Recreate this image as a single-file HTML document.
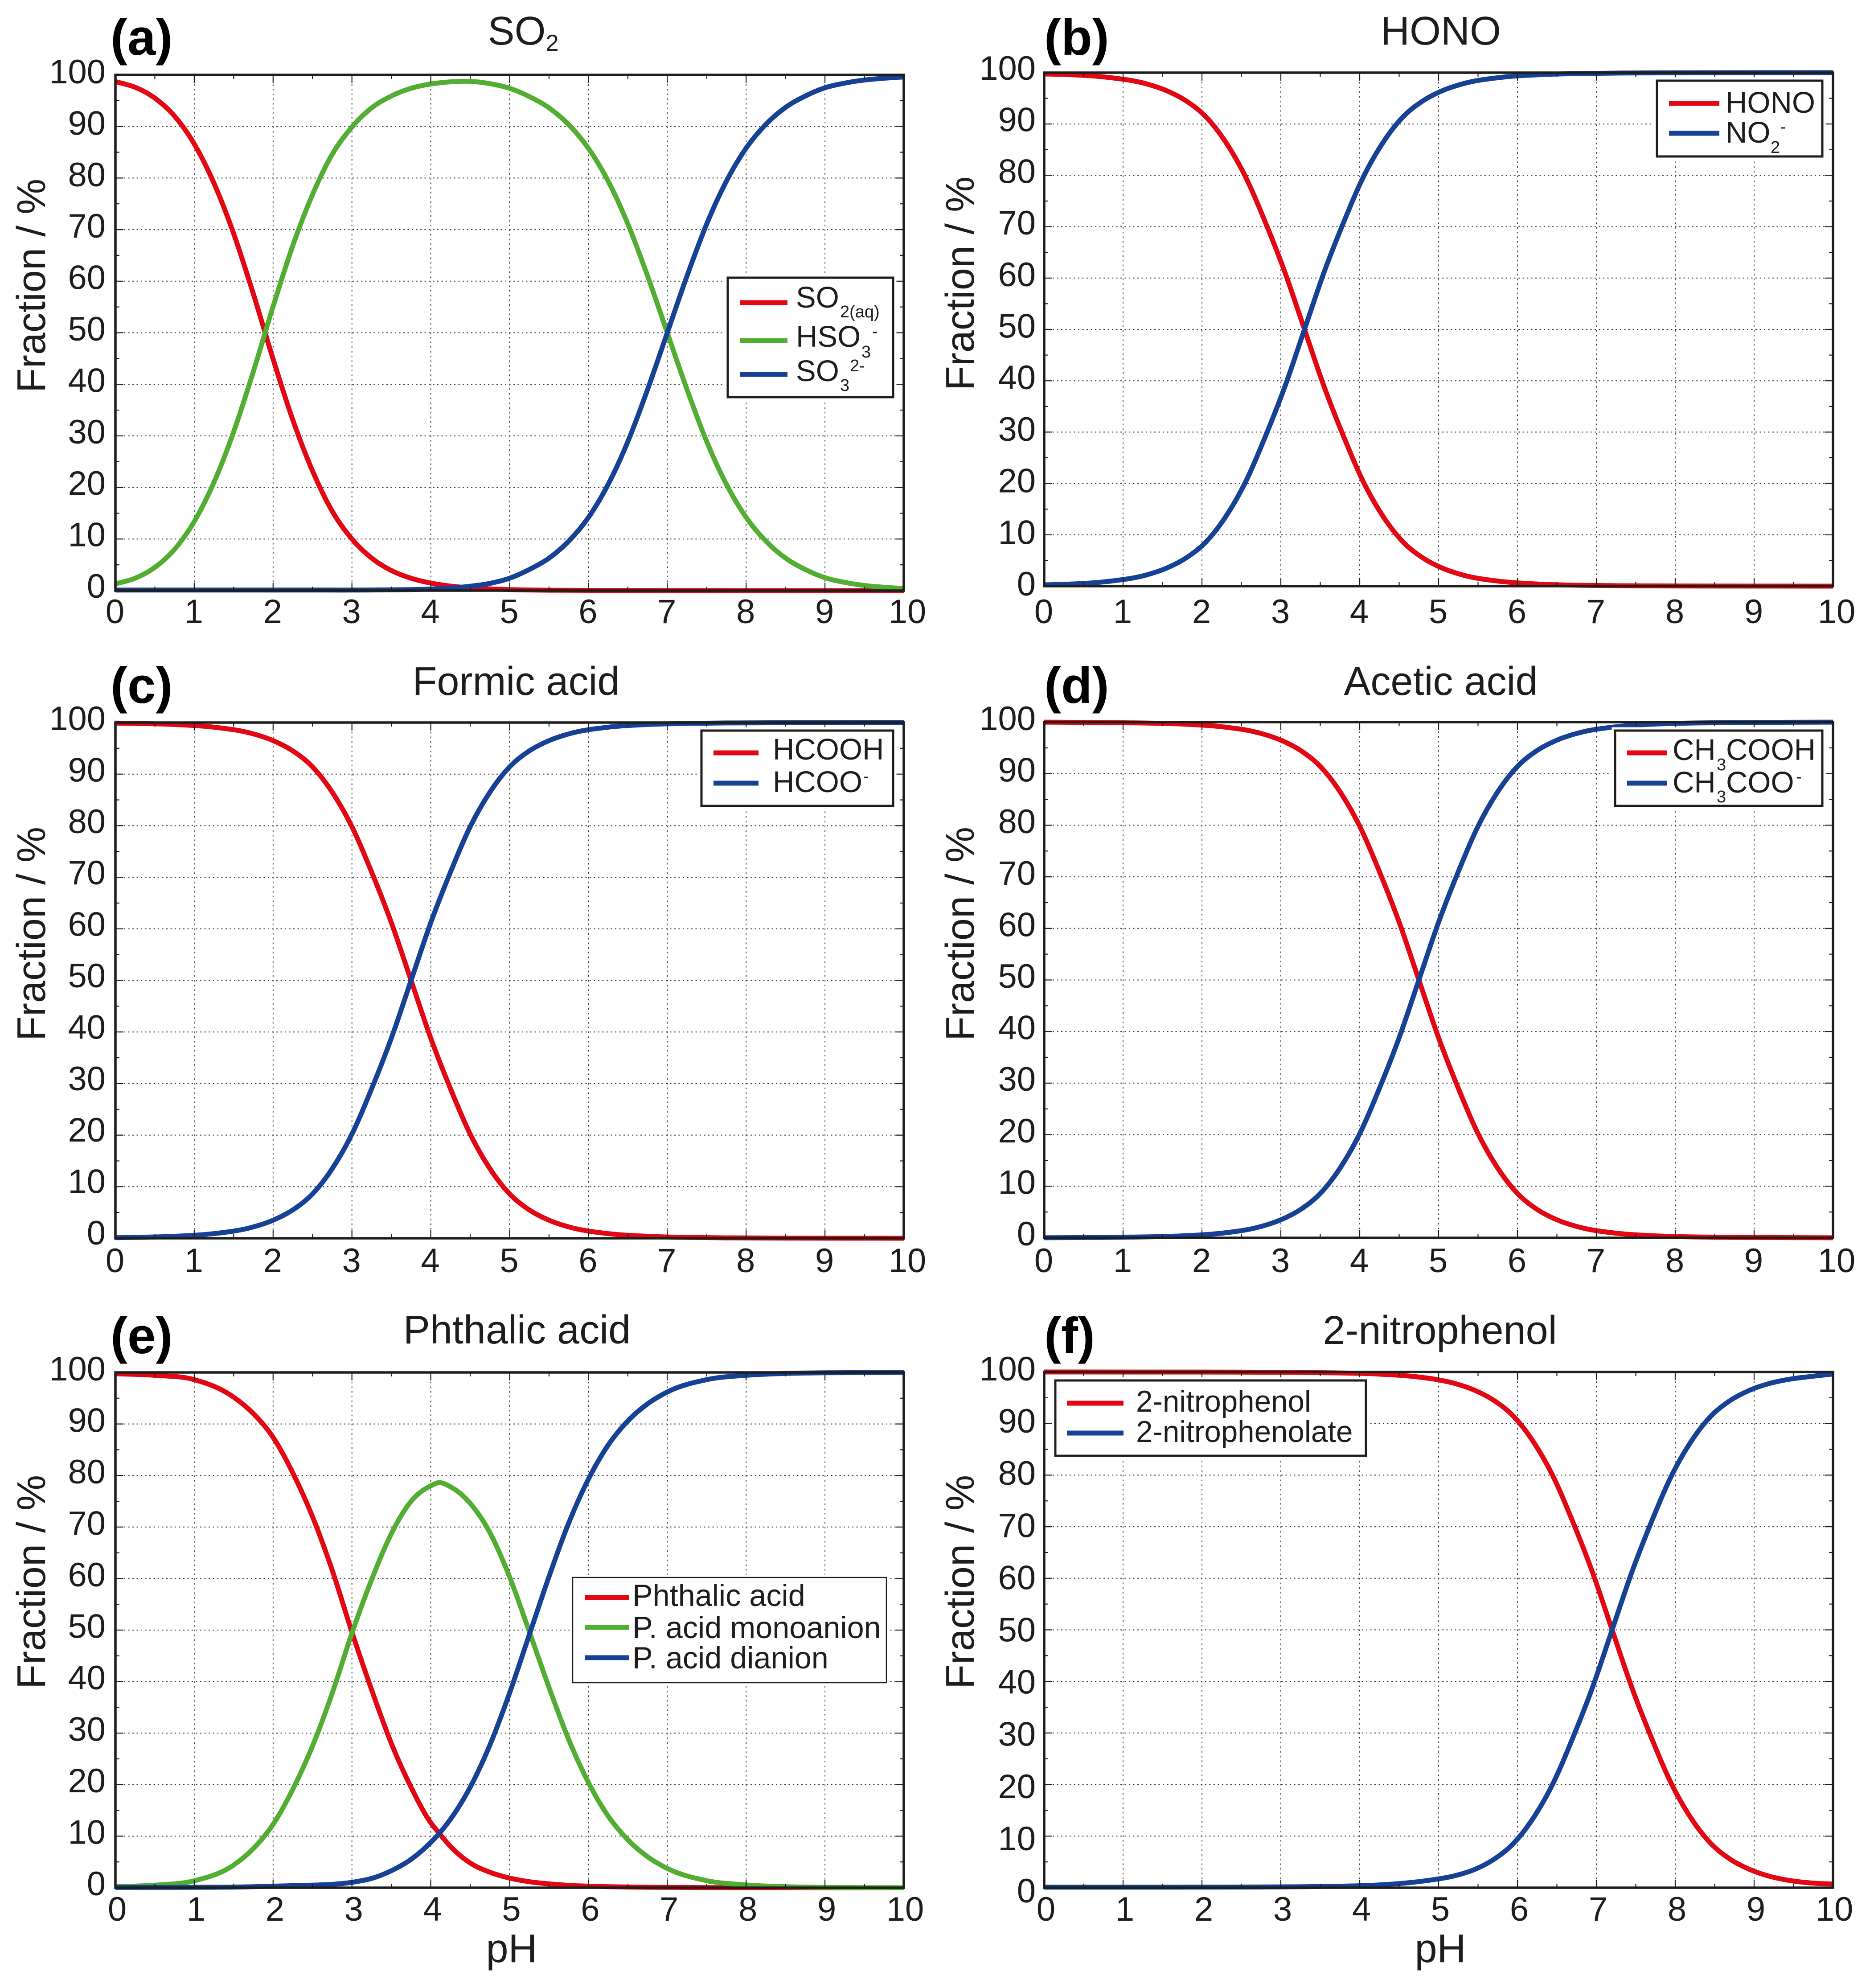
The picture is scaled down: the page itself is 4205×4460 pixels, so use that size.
<!DOCTYPE html>
<html lang="en">
<head>
<meta charset="utf-8">
<title>Speciation fractions versus pH</title>
<style>
html,body{margin:0;padding:0;background:#fff;}
svg{display:block;}
text{font-family:"Liberation Sans",Arial,sans-serif;fill:#1d1d1b;}
</style>
</head>
<body>
<svg id="figure" xmlns="http://www.w3.org/2000/svg" width="4205" height="4460" viewBox="0 0 4205 4460"></svg>
<script>
// ---------- tick labels ----------
const xTickValues = [0,1,2,3,4,5,6,7,8,9,10];
const xMinorValues = [0.5,1.5,2.5,3.5,4.5,5.5,6.5,7.5,8.5,9.5];
const yTickValues = [0,10,20,30,40,50,60,70,80,90,100];
const yMinorValues = [5,15,25,35,45,55,65,75,85,95];

// ---------- panel (a) SO2 ----------
const phA = [0,0.25,0.5,0.75,1,1.25,1.5,1.75,2,2.25,2.5,2.75,3,3.25,3.5,3.75,4,4.25,4.5,4.75,5,5.25,5.5,5.75,6,6.25,6.5,6.75,7,7.25,7.5,7.75,8,8.25,8.5,8.75,9,9.25,9.5,9.75,10];
const so2Aq = [98.7,97.6,95.5,92,86.6,79,69.2,57.5,44.9,33.1,23.2,15.4,10,6.3,3.9,2.4,1.46,0.88,0.53,0.32,0.2,0.12,0.08,0.06,0.04,0.03,0.02,0.02,0.01,0.01,0.01,0.01,0,0,0,0,0,0,0,0,0];
const hso3 = [1.3,2.4,4.5,8,13.4,21,30.8,42.5,55.1,66.9,76.8,84.6,89.9,93.6,95.9,97.4,98.24,98.65,98.75,98.3,97.4,95.8,93.6,90.35,85.75,79.4,71.1,61,50,39,28.9,20.6,14.2,9.6,6.3,4.1,2.5,1.6,1,0.65,0.4];
const so3 = [0.1,0.1,0.1,0.1,0.1,0.1,0.1,0.1,0.1,0.1,0.1,0.1,0.1,0.12,0.15,0.2,0.3,0.48,0.85,1.4,2.4,4.1,6.3,9.6,14.2,20.6,28.9,39,50,61,71.1,79.4,85.8,90.4,93.7,95.9,97.5,98.4,99,99.35,99.6];

// ---------- panel (b) HONO ----------
const phB = [0,0.3,0.8,1.3,1.55,1.8,2.05,2.3,2.55,2.8,3.05,3.3,3.55,3.8,4.05,4.3,4.55,4.8,5.05,5.3,5.8,6.3,6.8,7.3,8.3,9.3,10];
const hono = [99.75,99.62,99.1,97.8,96.5,94.5,91.4,86.5,79.8,71,61.2,50,38.8,29,20.2,13.5,8.6,5.5,3.5,2.2,0.9,0.38,0.17,0.08,0.02,0.005,0.002];
const no2 = [0.25,0.38,0.9,2.2,3.5,5.5,8.6,13.5,20.2,29,38.8,50,61.2,71,79.8,86.5,91.4,94.5,96.5,97.8,99.1,99.62,99.83,99.92,99.98,100,100];

// ---------- panel (c) formic acid ----------
const phC = [0,0.25,0.75,1.25,1.75,2,2.25,2.5,2.75,3,3.25,3.5,3.75,4,4.25,4.5,4.75,5,5.25,5.5,5.75,6.25,6.75,7.25,7.75,8.75,9.75,10];
const hcooh = [99.9,99.83,99.62,99.1,97.8,96.5,94.5,91.4,86.5,79.8,71,61.2,50,38.8,29,20.2,13.5,8.6,5.5,3.5,2.2,0.9,0.38,0.17,0.08,0.02,0.005,0.002];
const hcoo = [0.1,0.17,0.38,0.9,2.2,3.5,5.5,8.6,13.5,20.2,29,38.8,50,61.2,71,79.8,86.5,91.4,94.5,96.5,97.8,99.1,99.62,99.83,99.92,99.98,100,100];

// ---------- panel (d) acetic acid ----------
const phD = [0,0.75,1.25,1.75,2.25,2.75,3,3.25,3.5,3.75,4,4.25,4.5,4.75,5,5.25,5.5,5.75,6,6.25,6.5,6.75,7.25,7.75,8.25,8.75,9.75,10];
const ch3cooh = [99.99,99.92,99.83,99.62,99.1,97.8,96.5,94.5,91.4,86.5,79.8,71,61.2,50,38.8,29,20.2,13.5,8.6,5.5,3.5,2.2,0.9,0.38,0.17,0.08,0.02,0.01];
const ch3coo = [0.01,0.08,0.17,0.38,0.9,2.2,3.5,5.5,8.6,13.5,20.2,29,38.8,50,61.2,71,79.8,86.5,91.4,94.5,96.5,97.8,99.1,99.62,99.83,99.92,99.98,99.99];

// ---------- panel (e) phthalic acid ----------
const phE = [0,0.5,1,1.5,1.75,2,2.25,2.5,2.75,3,3.25,3.5,3.75,4,4.1,4.25,4.5,4.75,5,5.25,5.5,5.75,6,6.25,6.5,6.75,7,7.5,8,8.5,9,10];
const phthalic = [99.75,99.44,98.6,95.2,92,87.4,80.5,72,61.6,49.6,38.4,28,19.5,12.6,10.7,8,4.8,3,1.87,1.16,0.74,0.46,0.3,0.2,0.13,0.09,0.06,0.03,0.01,0.01,0,0];
const monoanion = [0.2,0.5,1.35,4.4,7.6,12.3,19.1,27.5,37.75,49.4,59.8,68.7,75,78,78.6,77.8,74.6,68.9,60.3,49.7,38.86,28.74,20.4,13.9,9.3,6,3.74,1.37,0.54,0.2,0.07,0];
const dianion = [0.05,0.06,0.08,0.12,0.2,0.3,0.4,0.5,0.65,1.05,1.8,3.3,5.5,8.8,10.4,13.3,19.5,27.7,37.8,49.1,60.4,70.8,79.3,85.9,90.6,93.9,96.2,98.6,99.45,99.8,99.93,100];

// ---------- panel (f) 2-nitrophenol ----------
const phF = [0,1.7,2.2,2.7,3.2,3.7,4.2,4.7,4.95,5.2,5.45,5.7,5.95,6.2,6.45,6.7,6.95,7.2,7.45,7.7,7.95,8.2,8.45,8.7,8.95,9.2,9.45,9.7,10];
const nitrophenol = [100,99.99,99.98,99.96,99.92,99.83,99.62,99.1,98.6,97.8,96.5,94.5,91.4,86.5,79.8,71,61.2,50,38.8,29,20.2,13.5,8.6,5.5,3.5,2.2,1.4,0.95,0.7];
const nitrophenolate = [0.1,0.11,0.12,0.14,0.18,0.28,0.5,1.1,1.6,2.3,3.5,5.5,8.6,13.5,20.2,29,38.8,50,61.2,71,79.8,86.5,91.4,94.5,96.5,97.8,98.6,99.1,99.6];

// ---------- appearance & layout ----------
const RED = '#e30613', GREEN = '#52ae32', BLUE = '#164194', INK = '#1d1d1b';
const svg = document.getElementById('figure');
const NS = 'http://www.w3.org/2000/svg';

function mk(tag, attrs, parent) {
  const el = document.createElementNS(NS, tag);
  for (const k in attrs) el.setAttribute(k, attrs[k]);
  parent.appendChild(el);
  return el;
}

const panels = [
  { id:'a', left:259, right:2028, top:168, bottom:1325, y100:187, y0:1341, yLabelX:237, xDx:-1, x10Dx:8, xBase:1398,
    tag:'(a)', tagX:248, tagBase:123, titleParts:[['SO',90,0],['2',52,14]], titleX:1174, titleBase:100,
    yTitleX:101, yTitleY:641, xTitle:false,
    series:[['so2-aq',phA,so2Aq,RED],['hso3',phA,hso3,GREEN],['so3',phA,so3,BLUE]],
    legend:{x1:1633,x2:2004,y1:623,y2:891,sw:5,lineX1:1660,lineX2:1767,entries:[
      {name:'so2-aq',color:RED,lineY:679,parts:[['SO',1786,690,67],['2(aq)',1885,712,38]]},
      {name:'hso3',color:GREEN,lineY:764,parts:[['HSO',1786,778,67],['3',1933,802,38],['-',1957,756,38]]},
      {name:'so3',color:BLUE,lineY:840,parts:[['SO',1786,855,67],['3',1885,877,38],['2-',1907,833,38]]}]} },
  { id:'b', left:2343, right:4113, top:163, bottom:1315, y100:179, y0:1336, yLabelX:2324, xDx:-1, x10Dx:8, xBase:1398,
    tag:'(b)', tagX:2343, tagBase:123, titleParts:[['HONO',90,0]], titleX:3233, titleBase:100,
    yTitleX:2185, yTitleY:636, xTitle:false,
    series:[['hono',phB,hono,RED],['no2',phB,no2,BLUE]],
    legend:{x1:3718,x2:4089,y1:181,y2:351,sw:5,lineX1:3745,lineX2:3858,entries:[
      {name:'hono',color:RED,lineY:232,parts:[['HONO',3872,253,67]]},
      {name:'no2',color:BLUE,lineY:299,parts:[['NO',3872,320,67],['2',3973,343,38],['-',3995,297,38]]}]} },
  { id:'c', left:259, right:2028, top:1621, bottom:2778, y100:1638, y0:2792, yLabelX:237, xDx:-1, x10Dx:8, xBase:2854,
    tag:'(c)', tagX:248, tagBase:1577, titleParts:[['Formic acid',90,0]], titleX:1158, titleBase:1559,
    yTitleX:101, yTitleY:2095, xTitle:false,
    series:[['hcooh',phC,hcooh,RED],['hcoo',phC,hcoo,BLUE]],
    legend:{x1:1574,x2:2004,y1:1639,y2:1808,sw:5,lineX1:1601,lineX2:1702,entries:[
      {name:'hcooh',color:RED,lineY:1689,parts:[['HCOOH',1734,1704,67]]},
      {name:'hcoo',color:BLUE,lineY:1757,parts:[['HCOO',1734,1777,67],['-',1937,1754,38]]}]} },
  { id:'d', left:2343, right:4113, top:1620, bottom:2777, y100:1638, y0:2794, yLabelX:2324, xDx:-1, x10Dx:8, xBase:2854,
    tag:'(d)', tagX:2343, tagBase:1577, titleParts:[['Acetic acid',90,0]], titleX:3233, titleBase:1559,
    yTitleX:2185, yTitleY:2095, xTitle:false,
    series:[['ch3cooh',phD,ch3cooh,RED],['ch3coo',phD,ch3coo,BLUE]],
    legend:{x1:3624,x2:4089,y1:1639,y2:1808,sw:5,lineX1:3651,lineX2:3740,entries:[
      {name:'ch3cooh',color:RED,lineY:1689,parts:[['CH',3753,1705,67],['3',3852,1728,38],['COOH',3873,1705,67]]},
      {name:'ch3coo',color:BLUE,lineY:1757,parts:[['CH',3753,1778,67],['3',3852,1800,38],['COO',3873,1778,67],['-',4030,1755,38]]}]} },
  { id:'e', left:259, right:2028, top:3079, bottom:4235, y100:3097, y0:4252, yLabelX:237, xDx:4, x10Dx:3, xBase:4309,
    tag:'(e)', tagX:248, tagBase:3036, titleParts:[['Phthalic acid',90,0]], titleX:1160, titleBase:3014,
    yTitleX:101, yTitleY:3549, xTitle:true, xTitleX:1148,
    gridGaps:[[1167,3534,118,15],[1167,3765,118,15]],
    series:[['phthalic-acid',phE,phthalic,RED],['monoanion',phE,monoanion,GREEN],['dianion',phE,dianion,BLUE]],
    legend:{x1:1285,x2:1989,y1:3539,y2:3775,sw:2.5,lineX1:1312,lineX2:1411,entries:[
      {name:'phthalic-acid',color:RED,lineY:3584,parts:[['Phthalic acid',1419,3603,68.4]]},
      {name:'monoanion',color:GREEN,lineY:3651,parts:[['P. acid monoanion',1419,3675,68.4]]},
      {name:'dianion',color:BLUE,lineY:3719,parts:[['P. acid dianion',1419,3743,68.4]]}]} },
  { id:'f', left:2343, right:4113, top:3078, bottom:4235, y100:3097, y0:4268, yLabelX:2324, xDx:4, x10Dx:3, xBase:4309,
    tag:'(f)', tagX:2343, tagBase:3036, titleParts:[['2-nitrophenol',90,0]], titleX:3231, titleBase:3015,
    yTitleX:2185, yTitleY:3549, xTitle:true, xTitleX:3232,
    series:[['nitrophenol',phF,nitrophenol,RED],['nitrophenolate',phF,nitrophenolate,BLUE]],
    legend:{x1:2368,x2:3065,y1:3097,y2:3266,sw:5,lineX1:2394,lineX2:2521,entries:[
      {name:'nitrophenol',color:RED,lineY:3148,parts:[['2-nitrophenol',2549,3167,67.3]]},
      {name:'nitrophenolate',color:BLUE,lineY:3215,parts:[['2-nitrophenolate',2549,3235,67.3]]}]} }
];

// axis functions
function xScale(p, v) { return p.left + (p.right - p.left) * v / 10; }
function yScale(p, v) { return p.bottom - (p.bottom - p.top) * v / 100; }
function yLabelBase(p, v) { return p.y0 - (p.y0 - p.y100) * v / 100; }

// smooth cubic path through the data points
function curvePath(p, xs, ys) {
  const X = xs.map(v => xScale(p, v));
  const Y = ys.map(v => yScale(p, v));
  const n = X.length, m = new Array(n), d = [];
  for (let i = 0; i < n - 1; i++) d.push((Y[i + 1] - Y[i]) / (X[i + 1] - X[i]));
  m[0] = d[0]; m[n - 1] = d[n - 2];
  for (let i = 1; i < n - 1; i++) {
    const h0 = X[i] - X[i - 1], h1 = X[i + 1] - X[i];
    const c = (d[i - 1] * h1 + d[i] * h0) / (h0 + h1);
    if (d[i - 1] * d[i] <= 0) { m[i] = c; }
    else {
      const lim = 3 * Math.min(Math.abs(d[i - 1]), Math.abs(d[i]));
      m[i] = Math.sign(c) * Math.min(Math.abs(c), lim);
    }
  }
  let s = 'M' + X[0].toFixed(1) + ' ' + Y[0].toFixed(1);
  for (let i = 0; i < n - 1; i++) {
    const h = (X[i + 1] - X[i]) / 3;
    s += 'C' + (X[i] + h).toFixed(1) + ' ' + (Y[i] + m[i] * h).toFixed(1) + ' ' +
         (X[i + 1] - h).toFixed(1) + ' ' + (Y[i + 1] - m[i + 1] * h).toFixed(1) + ' ' +
         X[i + 1].toFixed(1) + ' ' + Y[i + 1].toFixed(1);
  }
  return s;
}

panels.forEach(function (p) {
  const g = mk('g', {}, svg);
  
  

  // grid
  const grid = mk('g', { stroke: '#333', fill: 'none' }, g);
  
  
  xTickValues.slice(1, -1).forEach(function (v) {
    const l = mk('line', { x1: xScale(p, v), x2: xScale(p, v), y1: p.top, y2: p.bottom, 'stroke-width': 1.8, 'stroke-dasharray': '3.5 7' }, grid);
    
    
  });
  yTickValues.slice(1, -1).forEach(function (v) {
    const l = mk('line', { x1: p.left, x2: p.right, y1: yScale(p, v), y2: yScale(p, v), 'stroke-width': 2, 'stroke-dasharray': '3 6.5' }, grid);
    
    
  });
  (p.gridGaps || []).forEach(function (r) {
    const gap = mk('rect', { x: r[0], y: r[1], width: r[2], height: r[3], fill: '#fff' }, g);
    
    
  });

  // series
  p.series.forEach(function (s) {
    const path = mk('path', { d: curvePath(p, s[1], s[2]), fill: 'none', stroke: s[3], 'stroke-width': 11, 'stroke-linejoin': 'round' }, g);
    
    
  });

  // ticks
  const ticks = mk('g', { stroke: INK, 'stroke-width': 2.2 }, g);
  
  
  function xt(v, len) {
    const x = xScale(p, v);
    mk('line', { x1: x, x2: x, y1: p.top, y2: p.top + len }, ticks);
    mk('line', { x1: x, x2: x, y1: p.bottom, y2: p.bottom - len }, ticks);
  }
  function yt(v, len) {
    const y = yScale(p, v);
    mk('line', { x1: p.left, x2: p.left + len, y1: y, y2: y }, ticks);
    mk('line', { x1: p.right, x2: p.right - len, y1: y, y2: y }, ticks);
  }
  xTickValues.forEach(v => xt(v, 18));
  xMinorValues.forEach(v => xt(v, 9));
  yTickValues.forEach(v => yt(v, 18));
  yMinorValues.forEach(v => yt(v, 9));

  // frame
  const frame = mk('rect', { x: p.left, y: p.top, width: p.right - p.left, height: p.bottom - p.top, fill: 'none', stroke: INK, 'stroke-width': 5.5 }, g);
  
  

  // tick labels
  xTickValues.forEach(function (v) {
    const dx = v === 10 ? p.x10Dx : p.xDx;
    const t = mk('text', { x: xScale(p, v) + dx, y: p.xBase, 'font-size': 76, 'text-anchor': 'middle' }, g);
    t.textContent = String(v);
    
    
  });
  yTickValues.forEach(function (v) {
    const t = mk('text', { x: p.yLabelX, y: yLabelBase(p, v), 'font-size': 76, 'text-anchor': 'end' }, g);
    t.textContent = String(v);
    
    
  });

  // axis titles
  const yTitle = mk('text', { x: p.yTitleX, y: p.yTitleY, 'font-size': 90, 'text-anchor': 'middle', transform: 'rotate(-90 ' + p.yTitleX + ' ' + p.yTitleY + ')' }, g);
  yTitle.textContent = 'Fraction / %';
  
  
  if (p.xTitle) {
    const xTitle = mk('text', { x: p.xTitleX, y: 4402, 'font-size': 90, 'text-anchor': 'middle' }, g);
    xTitle.textContent = 'pH';
    
    
  }

  // panel letter
  const tag = mk('text', { x: p.tagX, y: p.tagBase, 'font-size': 114, 'font-weight': 700, style: 'fill:#000' }, g);
  tag.textContent = p.tag;
  
  

  // title
  const title = mk('text', { x: p.titleX, y: p.titleBase, 'text-anchor': 'middle' }, g);
  
  
  p.titleParts.forEach(function (part) {
    const ts = mk('tspan', { 'font-size': part[1], dy: part[2] }, title);
    ts.textContent = part[0];
  });

  // legend
  const L = p.legend;
  const lg = mk('g', {}, g);
  
  
  mk('rect', { x: L.x1 - L.sw / 2 - 5, y: L.y1 - L.sw / 2 - 5, width: L.x2 - L.x1 + L.sw + 10, height: L.y2 - L.y1 + L.sw + 10, fill: '#fff' }, lg);
  mk('rect', { x: L.x1, y: L.y1, width: L.x2 - L.x1, height: L.y2 - L.y1, fill: '#fff', stroke: INK, 'stroke-width': L.sw }, lg);
  L.entries.forEach(function (e) {
    const swatch = mk('line', { x1: L.lineX1, x2: L.lineX2, y1: e.lineY, y2: e.lineY, stroke: e.color, 'stroke-width': 11 }, lg);
    
    
    const label = mk('text', {}, lg);
    
    
    e.parts.forEach(function (part) {
      const ts = mk('tspan', { x: part[1], y: part[2], 'font-size': part[3] }, label);
      ts.textContent = part[0];
    });
  });
});
</script>
</body>
</html>
